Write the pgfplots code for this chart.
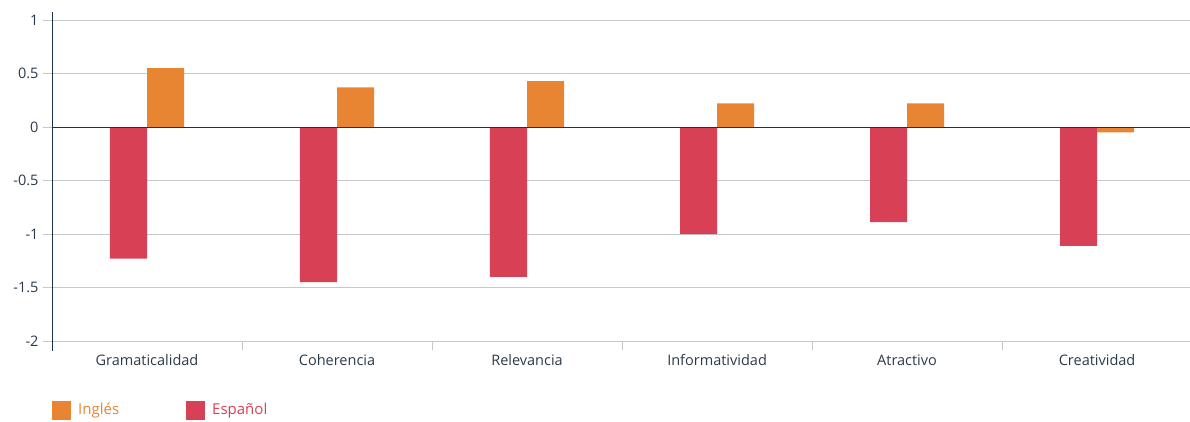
\documentclass[border=0pt]{standalone}
\usepackage{pgfplots}
\pgfplotsset{compat=1.18}
\usepackage{fontspec}
\setmainfont{Open Sans}
\definecolor{ingl}{HTML}{E88533}
\definecolor{espa}{HTML}{D84155}
\definecolor{navy}{HTML}{1E3146}
\definecolor{gridc}{HTML}{C3C8CC}
\definecolor{txt}{HTML}{2B3A4A}
\begin{document}
\begin{tikzpicture}
\begin{axis}[
  scale only axis,
  width=1138pt, height=329pt,
  xmin=-0.5, xmax=5.489,
  ymin=-2, ymax=1.075,
  axis x line*=bottom,
  axis y line*=left,
  x axis line style={draw=none},
  y axis line style={draw=navy, line width=0.9pt, shorten <=-10pt, -},
  xtick={0,1,2,3,4,5},
  xticklabels={Gramaticalidad,Coherencia,Relevancia,Informatividad,Atractivo,Creatividad},
  minor xtick={0.5,1.5,2.5,3.5,4.5},
  major x tick style={draw=none},
  minor x tick style={draw=gridc, line width=0.8pt},
  minor tick length=9pt,
  ytick={-2,-1.5,-1,-0.5,0,0.5,1},
  yticklabels={-2,-1.5,-1,-0.5,0,0.5,1},
  tick align=outside,
  major tick length=9pt,
  y tick style={draw=gridc, line width=0.8pt},
  ymajorgrids,
  major grid style={draw=gridc, line width=0.8pt},
  extra y ticks={0},
  extra y tick labels={},
  extra y tick style={grid style={draw=navy, line width=0.9pt}, tick style={draw=navy, line width=0.9pt}},
  yticklabel style={font=\fontsize{14.5}{16}\selectfont, text=txt, xshift=-1pt},
  xticklabel style={font=\fontsize{14.5}{16}\selectfont, text=txt, text height=11pt, text depth=3pt, yshift=-1pt},
  clip=false,
]
\addplot[ybar, bar width=0.195, bar shift=-0.0975, fill=espa, draw=none] coordinates {
  (0,-1.23) (1,-1.45) (2,-1.40) (3,-1.00) (4,-0.89) (5,-1.11)};
\addplot[ybar, bar width=0.195, bar shift=0.0975, fill=ingl, draw=none] coordinates {
  (0,0.55) (1,0.37) (2,0.43) (3,0.22) (4,0.22) (5,-0.05)};
\draw[navy, line width=0.9pt] (axis cs:-0.5,0) -- (axis cs:5.489,0);
\end{axis}
% legend
\fill[ingl] (0pt,-60pt) rectangle (19pt,-79pt);
\node[anchor=west, text=ingl, font=\fontsize{15}{17}\selectfont, inner sep=0pt] at (26pt,-70pt) {Inglés};
\fill[espa] (134pt,-60pt) rectangle (153pt,-79pt);
\node[anchor=west, text=espa, font=\fontsize{15}{17}\selectfont, inner sep=0pt] at (160pt,-70pt) {Español};
\pgfresetboundingbox
\path[use as bounding box] (-52pt,-80pt) rectangle (1138pt,341pt);
\end{tikzpicture}
\end{document}
